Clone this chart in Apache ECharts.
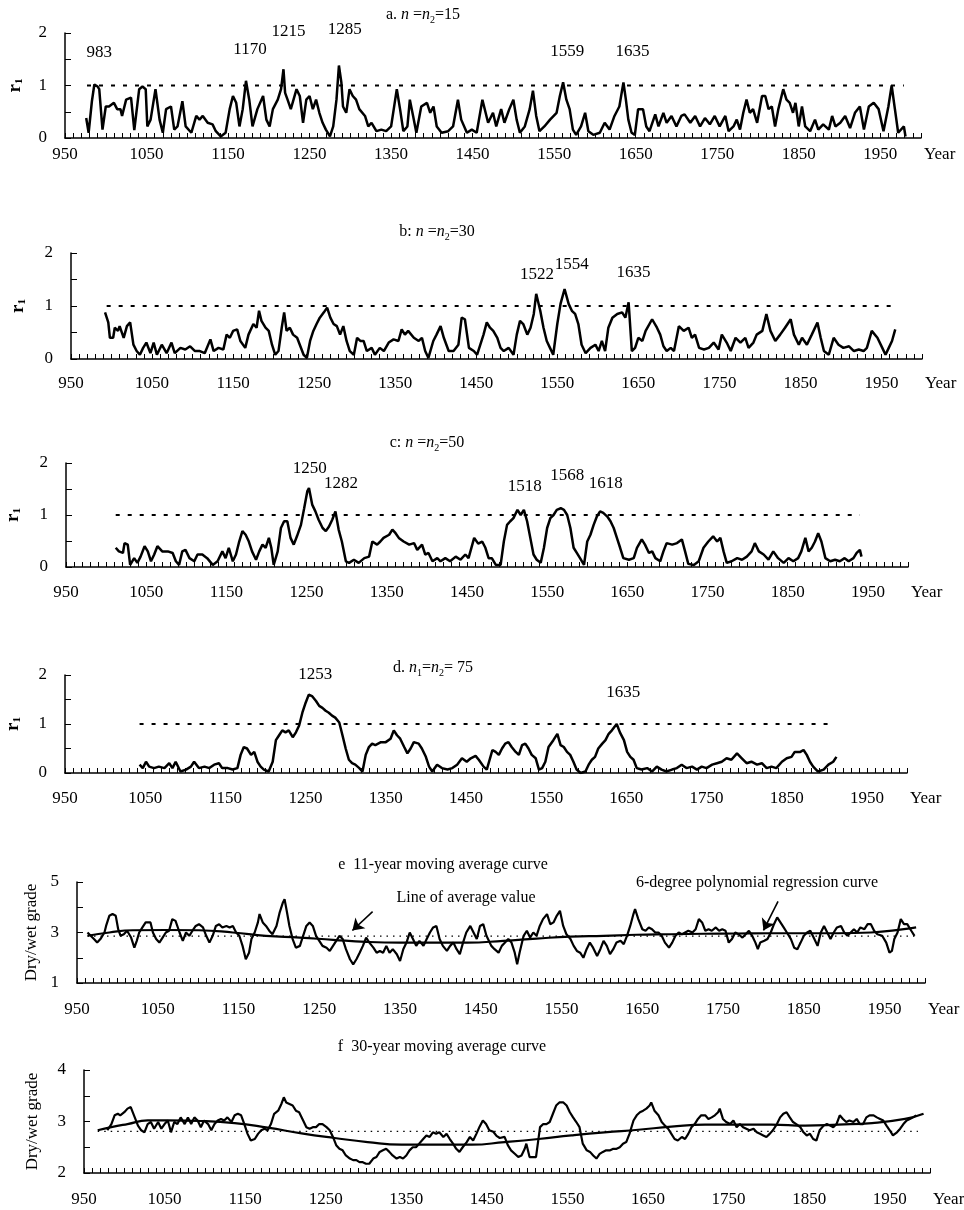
<!DOCTYPE html>
<html><head><meta charset="utf-8">
<script src="https://cdn.jsdelivr.net/npm/echarts/dist/echarts.min.js"></script>
<style>html,body{margin:0;padding:0;background:#fff}#c{width:964px;height:1210px}</style>
</head><body><div id="c"></div>
<script>
// ---------------- DATA ----------------
const seriesA = [[976,.38],[979,.1],[983,.7],[986,1.02],[990,.98],[992,.93],[996,.16],[1000,.6],[1004,.6],[1010,.67],[1014,.55],[1018,.55],[1020,.42],[1025,.73],[1031,.77],[1035,.15],[1041,.93],[1045,.98],[1049,.93],[1051,.22],[1055,.35],[1061,.93],[1066,.35],[1070,.1],[1074,.55],[1080,.6],[1084,.16],[1088,.22],[1094,.7],[1098,.22],[1105,.1],[1111,.42],[1115,.35],[1119,.42],[1125,.29],[1131,.26],[1135,.13],[1141,.03],[1147,.1],[1152,.55],[1156,.8],[1160,.67],[1164,.22],[1168,.55],[1172,1.09],[1176,.73],[1180,.22],[1186,.55],[1193,.8],[1197,.35],[1201,.22],[1205,.55],[1211,.73],[1215,.93],[1218,1.31],[1220,.86],[1223,.73],[1227,.55],[1234,.93],[1238,.8],[1242,.29],[1246,.73],[1250,.8],[1254,.55],[1258,.73],[1262,.48],[1266,.29],[1270,.16],[1275,.03],[1279,.22],[1283,.73],[1286,1.38],[1289,1.06],[1291,.6],[1295,.48],[1299,.93],[1303,.8],[1307,.73],[1311,.55],[1318,.42],[1322,.22],[1326,.29],[1332,.13],[1338,.16],[1344,.13],[1350,.22],[1357,.93],[1361,.55],[1365,.13],[1370,.22],[1373,.73],[1377,.42],[1381,.1],[1387,.6],[1394,.67],[1398,.48],[1402,.6],[1406,.22],[1412,.1],[1420,.13],[1426,.22],[1432,.73],[1436,.35],[1443,.1],[1449,.16],[1455,.1],[1462,.73],[1469,.29],[1475,.48],[1479,.22],[1485,.55],[1489,.29],[1495,.55],[1500,.73],[1504,.35],[1508,.1],[1514,.22],[1520,.55],[1524,.9],[1528,.42],[1532,.13],[1538,.22],[1545,.35],[1553,.48],[1557,.8],[1561,1.06],[1565,.73],[1569,.55],[1573,.16],[1577,.06],[1583,.22],[1588,.48],[1592,.13],[1598,.06],[1606,.1],[1612,.29],[1618,.16],[1624,.42],[1630,.6],[1635,1.06],[1638,.73],[1641,.35],[1645,.1],[1649,.06],[1653,.55],[1659,.55],[1663,.22],[1667,.13],[1674,.45],[1678,.22],[1684,.48],[1688,.29],[1694,.42],[1700,.22],[1706,.42],[1710,.45],[1717,.29],[1723,.42],[1729,.22],[1735,.38],[1741,.26],[1747,.42],[1753,.22],[1760,.42],[1764,.13],[1770,.22],[1774,.35],[1778,.16],[1782,.48],[1786,.73],[1790,.48],[1794,.55],[1799,.29],[1805,.8],[1809,.8],[1813,.55],[1817,.6],[1821,.22],[1825,.55],[1831,.93],[1835,.73],[1839,.67],[1843,.48],[1846,.67],[1850,.22],[1854,.6],[1858,.22],[1864,.13],[1870,.35],[1874,.16],[1880,.26],[1887,.16],[1891,.42],[1895,.22],[1901,.29],[1907,.42],[1913,.19],[1919,.48],[1925,.6],[1930,.16],[1936,.6],[1942,.67],[1948,.55],[1954,.13],[1960,.6],[1964,1.0],[1968,.55],[1972,.1],[1979,.22],[1981,.03]];

const seriesB = [[992,.88],[996,.69],[998,.4],[1002,.4],[1004,.59],[1008,.53],[1010,.62],[1015,.4],[1019,.62],[1023,.69],[1027,.27],[1031,.15],[1035,.08],[1039,.21],[1043,.31],[1048,.11],[1052,.31],[1056,.08],[1062,.27],[1068,.11],[1074,.31],[1078,.11],[1085,.21],[1091,.18],[1097,.24],[1103,.15],[1109,.15],[1115,.11],[1122,.37],[1126,.15],[1132,.21],[1138,.18],[1142,.46],[1146,.4],[1150,.53],[1155,.56],[1159,.34],[1165,.21],[1169,.46],[1175,.66],[1179,.59],[1182,.91],[1185,.72],[1190,.59],[1194,.53],[1198,.27],[1202,.08],[1206,.15],[1210,.59],[1213,.88],[1216,.53],[1220,.59],[1224,.46],[1229,.4],[1233,.24],[1237,.08],[1241,.02],[1245,.34],[1249,.53],[1253,.66],[1257,.78],[1262,.88],[1266,.97],[1270,.78],[1274,.66],[1278,.62],[1282,.46],[1286,.62],[1290,.34],[1294,.15],[1299,.08],[1303,.4],[1307,.34],[1311,.34],[1315,.15],[1321,.21],[1325,.08],[1331,.21],[1336,.15],[1342,.31],[1348,.37],[1354,.34],[1358,.56],[1362,.46],[1366,.53],[1373,.4],[1379,.34],[1383,.4],[1387,.15],[1391,.02],[1397,.34],[1401,.46],[1406,.62],[1410,.4],[1416,.15],[1422,.15],[1428,.27],[1432,.78],[1436,.75],[1441,.21],[1447,.15],[1451,.08],[1459,.46],[1463,.69],[1467,.59],[1471,.53],[1476,.4],[1480,.21],[1484,.15],[1490,.21],[1496,.08],[1500,.46],[1504,.72],[1508,.66],[1513,.46],[1517,.59],[1521,.85],[1524,1.23],[1529,.91],[1533,.59],[1537,.34],[1541,.21],[1545,.08],[1550,.66],[1554,1.04],[1559,1.32],[1564,1.04],[1568,.91],[1572,.85],[1576,.66],[1580,.27],[1585,.11],[1591,.21],[1597,.27],[1601,.15],[1605,.34],[1609,.15],[1613,.59],[1618,.78],[1624,.85],[1630,.88],[1634,.78],[1638,1.07],[1642,.15],[1646,.21],[1650,.4],[1655,.34],[1659,.53],[1667,.75],[1673,.59],[1677,.46],[1681,.24],[1685,.15],[1690,.21],[1694,.15],[1700,.62],[1706,.53],[1712,.59],[1716,.4],[1720,.46],[1725,.21],[1731,.18],[1737,.21],[1743,.31],[1749,.18],[1753,.46],[1759,.31],[1764,.15],[1770,.4],[1776,.31],[1782,.4],[1786,.21],[1792,.31],[1796,.46],[1803,.53],[1808,.85],[1813,.53],[1819,.34],[1825,.46],[1831,.59],[1838,.75],[1842,.46],[1848,.27],[1852,.4],[1858,.27],[1864,.46],[1871,.69],[1875,.4],[1879,.15],[1885,.08],[1891,.4],[1897,.27],[1903,.21],[1910,.24],[1916,.15],[1922,.18],[1928,.15],[1932,.21],[1938,.53],[1945,.4],[1951,.21],[1955,.08],[1959,.21],[1963,.34],[1967,.56]];

const seriesC = [[1012,.37],[1016,.3],[1021,.27],[1023,.46],[1027,.43],[1030,.04],[1035,.17],[1039,.08],[1043,.2],[1048,.4],[1052,.3],[1056,.11],[1060,.24],[1064,.4],[1070,.3],[1077,.3],[1083,.27],[1087,.11],[1091,.04],[1095,.3],[1099,.33],[1104,.17],[1110,.11],[1114,.24],[1120,.24],[1126,.17],[1133,.04],[1139,.11],[1145,.3],[1149,.17],[1153,.37],[1158,.11],[1162,.24],[1166,.49],[1170,.69],[1174,.62],[1178,.49],[1182,.3],[1187,.14],[1191,.3],[1195,.43],[1199,.37],[1203,.56],[1206,.37],[1209,.04],[1214,.3],[1218,.75],[1222,.88],[1226,.88],[1230,.56],[1234,.43],[1238,.59],[1243,.81],[1247,1.13],[1251,1.46],[1253,1.52],[1257,1.2],[1261,1.07],[1265,.91],[1270,.75],[1274,.69],[1278,.78],[1282,.91],[1286,1.07],[1290,.72],[1294,.49],[1299,.11],[1303,.08],[1309,.14],[1315,.08],[1322,.17],[1328,.2],[1332,.49],[1338,.43],[1342,.49],[1346,.56],[1353,.62],[1357,.72],[1361,.65],[1365,.56],[1371,.49],[1378,.43],[1384,.46],[1388,.33],[1394,.43],[1398,.24],[1402,.27],[1407,.11],[1413,.17],[1417,.11],[1423,.17],[1429,.11],[1436,.2],[1442,.14],[1448,.24],[1452,.17],[1459,.56],[1464,.45],[1469,.49],[1473,.37],[1477,.17],[1481,.17],[1486,.04],[1492,.04],[1496,.49],[1500,.81],[1504,.88],[1508,.94],[1513,1.1],[1517,1.0],[1521,1.1],[1525,.88],[1529,.56],[1533,.24],[1537,.14],[1542,.08],[1546,.37],[1550,.75],[1554,.94],[1558,1.0],[1562,1.1],[1567,1.13],[1571,1.1],[1575,1.0],[1579,.75],[1583,.37],[1587,.27],[1591,.17],[1596,.04],[1600,.49],[1604,.62],[1608,.81],[1612,.97],[1616,1.07],[1620,1.04],[1625,.97],[1629,.88],[1633,.75],[1637,.56],[1641,.37],[1645,.17],[1652,.14],[1658,.17],[1662,.37],[1668,.53],[1672,.43],[1677,.27],[1681,.3],[1685,.17],[1691,.11],[1695,.3],[1699,.46],[1706,.43],[1712,.46],[1718,.53],[1722,.3],[1726,.06],[1733,.04],[1739,.11],[1745,.37],[1751,.49],[1757,.59],[1762,.49],[1766,.56],[1770,.3],[1774,.08],[1780,.11],[1787,.17],[1793,.14],[1799,.2],[1805,.3],[1809,.46],[1814,.3],[1820,.24],[1826,.14],[1832,.3],[1838,.17],[1845,.08],[1851,.17],[1857,.11],[1863,.17],[1867,.3],[1872,.56],[1876,.3],[1880,.37],[1884,.49],[1888,.65],[1892,.49],[1897,.17],[1903,.11],[1909,.14],[1915,.11],[1921,.17],[1926,.11],[1932,.17],[1936,.27],[1940,.33],[1942,.2]];

const seriesD = [[1043,.17],[1047,.1],[1051,.23],[1055,.13],[1061,.1],[1067,.13],[1074,.1],[1080,.2],[1084,.1],[1088,.23],[1094,.03],[1101,.07],[1107,.13],[1111,.23],[1117,.1],[1124,.13],[1130,.1],[1136,.17],[1142,.2],[1146,.1],[1153,.1],[1159,.07],[1165,.1],[1169,.37],[1173,.53],[1177,.5],[1182,.37],[1186,.43],[1190,.23],[1194,.13],[1198,.07],[1204,.03],[1209,.23],[1213,.67],[1217,.77],[1221,.87],[1225,.83],[1229,.87],[1234,.73],[1238,.83],[1242,.97],[1246,1.23],[1250,1.43],[1254,1.6],[1258,1.57],[1263,1.47],[1267,1.37],[1271,1.33],[1275,1.27],[1279,1.23],[1283,1.17],[1287,1.13],[1292,1.03],[1296,.77],[1300,.5],[1304,.27],[1308,.2],[1312,.17],[1317,.1],[1321,.03],[1325,.37],[1329,.53],[1333,.6],[1337,.57],[1344,.63],[1350,.63],[1356,.7],[1360,.87],[1364,.77],[1368,.7],[1373,.53],[1377,.4],[1381,.5],[1385,.63],[1391,.6],[1395,.5],[1400,.33],[1404,.13],[1408,.03],[1414,.17],[1420,.1],[1427,.07],[1433,.1],[1439,.17],[1445,.3],[1451,.23],[1456,.3],[1462,.35],[1466,.27],[1472,.13],[1476,.07],[1483,.47],[1487,.43],[1491,.37],[1495,.5],[1499,.6],[1503,.63],[1507,.53],[1512,.43],[1516,.37],[1520,.57],[1524,.6],[1528,.5],[1532,.37],[1537,.3],[1541,.07],[1545,.1],[1549,.23],[1553,.53],[1559,.67],[1564,.8],[1568,.57],[1572,.53],[1576,.43],[1580,.37],[1584,.23],[1588,.07],[1593,0],[1599,.03],[1603,.17],[1607,.27],[1611,.33],[1615,.5],[1620,.6],[1624,.67],[1628,.8],[1632,.87],[1638,1.0],[1642,.83],[1647,.67],[1651,.43],[1655,.33],[1659,.27],[1663,.1],[1669,.07],[1676,.1],[1682,.03],[1688,.13],[1694,.07],[1700,.03],[1707,.07],[1713,.1],[1719,.17],[1725,.1],[1732,.13],[1738,.07],[1744,.13],[1750,.1],[1757,.17],[1763,.2],[1769,.23],[1775,.3],[1781,.27],[1788,.4],[1794,.3],[1800,.2],[1806,.23],[1813,.17],[1819,.2],[1825,.1],[1831,.13],[1837,.1],[1844,.23],[1850,.3],[1856,.33],[1860,.43],[1867,.43],[1871,.47],[1875,.37],[1879,.23],[1883,.13],[1889,.03],[1896,.07],[1902,.17],[1908,.23],[1912,.33]];

const movingAvg11 = [[963,3.0],[967,2.87],[971,2.74],[975,2.6],[979,2.74],[984,3.0],[986,3.26],[990,3.66],[994,3.73],[998,3.66],[1001,3.13],[1004,2.87],[1008,2.93],[1012,3.07],[1017,2.8],[1021,2.4],[1024,2.67],[1027,3.0],[1031,3.2],[1035,3.4],[1041,3.4],[1044,3.0],[1048,2.74],[1052,2.6],[1056,2.8],[1060,3.0],[1064,3.07],[1068,3.53],[1072,3.46],[1077,3.0],[1081,2.67],[1085,3.0],[1089,2.87],[1093,3.07],[1097,3.26],[1101,3.33],[1106,3.2],[1110,2.87],[1114,2.6],[1118,2.87],[1122,3.26],[1126,3.33],[1130,3.2],[1135,3.26],[1139,3.2],[1143,3.26],[1147,3.0],[1151,2.87],[1155,2.47],[1159,1.94],[1163,2.2],[1166,2.74],[1170,3.0],[1174,3.4],[1176,3.73],[1180,3.4],[1184,3.26],[1188,3.07],[1192,2.93],[1197,3.26],[1201,3.8],[1205,4.19],[1207,4.32],[1210,3.8],[1213,3.26],[1217,2.74],[1221,2.4],[1226,2.47],[1230,2.87],[1234,3.26],[1238,3.4],[1242,3.26],[1246,2.87],[1250,2.67],[1254,2.47],[1259,2.4],[1263,2.27],[1267,2.47],[1271,2.67],[1275,2.87],[1279,2.74],[1283,2.34],[1288,1.94],[1292,1.74],[1296,1.94],[1300,2.2],[1304,2.47],[1308,2.8],[1312,2.6],[1317,2.4],[1321,2.2],[1325,2.27],[1329,2.2],[1333,2.47],[1337,2.2],[1341,2.34],[1346,2.14],[1350,1.87],[1354,2.34],[1358,2.6],[1362,3.0],[1366,2.74],[1370,2.47],[1374,2.67],[1379,2.47],[1383,2.74],[1387,3.0],[1391,3.2],[1395,3.26],[1399,2.74],[1403,2.47],[1408,2.27],[1412,2.47],[1416,2.6],[1420,2.34],[1424,2.14],[1428,2.6],[1432,3.0],[1437,3.26],[1441,3.0],[1445,2.74],[1449,3.26],[1453,3.33],[1457,2.87],[1463,2.47],[1467,2.34],[1472,2.2],[1476,2.47],[1480,2.6],[1484,2.74],[1488,2.6],[1492,2.2],[1495,1.74],[1498,2.2],[1503,2.87],[1507,3.07],[1511,2.8],[1515,3.0],[1519,2.87],[1523,3.26],[1527,3.53],[1532,3.73],[1536,3.33],[1540,3.4],[1544,3.66],[1548,3.86],[1552,3.26],[1556,2.93],[1561,2.74],[1565,2.47],[1569,2.27],[1573,2.2],[1577,2.0],[1581,2.34],[1585,2.6],[1589,2.4],[1594,2.07],[1598,2.34],[1602,2.67],[1606,2.47],[1610,2.14],[1614,2.34],[1618,2.6],[1623,2.67],[1627,2.54],[1631,2.87],[1635,3.26],[1639,3.73],[1641,3.93],[1645,3.53],[1650,3.13],[1654,3.07],[1658,3.2],[1662,3.13],[1666,3.0],[1670,3.0],[1674,2.87],[1678,2.6],[1683,2.4],[1687,2.6],[1691,2.87],[1695,3.0],[1699,2.93],[1703,3.0],[1707,3.07],[1712,3.0],[1716,3.13],[1720,3.53],[1724,3.4],[1728,3.07],[1732,3.13],[1736,3.07],[1741,3.2],[1745,3.07],[1749,3.13],[1753,3.07],[1757,2.6],[1761,2.74],[1765,3.0],[1769,2.93],[1774,2.8],[1778,2.93],[1782,3.07],[1786,2.87],[1790,2.6],[1793,2.34],[1796,2.6],[1801,2.67],[1805,2.74],[1809,3.0],[1813,3.33],[1817,3.6],[1821,3.4],[1825,3.2],[1829,3.0],[1834,2.74],[1838,2.4],[1842,2.34],[1846,2.6],[1850,2.87],[1854,3.0],[1858,3.07],[1863,2.74],[1867,2.47],[1871,3.0],[1875,3.26],[1879,3.0],[1883,2.74],[1887,3.0],[1891,3.2],[1896,3.26],[1900,3.0],[1904,2.87],[1908,3.0],[1912,3.13],[1916,3.0],[1920,3.2],[1925,3.13],[1929,3.33],[1933,3.33],[1937,3.07],[1941,2.93],[1947,2.87],[1952,2.6],[1956,2.2],[1959,2.27],[1962,2.74],[1966,3.0],[1970,3.53],[1974,3.33],[1978,3.33],[1983,3.07],[1987,2.87]];

const polyFitE = [[963,2.87],[990,3.0],[1019,3.09],[1060,3.1],[1101,3.09],[1143,3.0],[1184,2.87],[1226,2.8],[1267,2.71],[1308,2.63],[1350,2.6],[1391,2.6],[1433,2.6],[1478,2.67],[1519,2.76],[1561,2.84],[1602,2.87],[1643,2.91],[1685,2.93],[1726,2.95],[1767,2.96],[1809,2.97],[1850,2.97],[1892,2.97],[1933,3.0],[1974,3.13],[1989,3.2]];

const movingAvg30 = [[979,2.83],[984,2.95],[988,3.12],[992,3.15],[995,3.12],[1000,3.18],[1004,3.25],[1008,3.28],[1013,3.08],[1017,2.92],[1021,2.83],[1025,2.79],[1029,2.95],[1033,2.99],[1037,2.86],[1042,2.99],[1046,2.86],[1050,2.95],[1054,3.02],[1058,2.79],[1062,2.99],[1066,2.95],[1070,3.08],[1075,2.95],[1079,3.08],[1083,2.95],[1087,3.08],[1091,3.02],[1095,2.89],[1099,3.02],[1104,2.95],[1108,2.83],[1112,2.95],[1116,3.02],[1120,3.05],[1124,3.02],[1128,3.08],[1133,2.99],[1137,3.12],[1141,3.15],[1145,3.12],[1149,2.95],[1153,2.76],[1157,2.63],[1162,2.66],[1166,2.76],[1170,2.83],[1174,2.86],[1178,2.83],[1182,2.95],[1186,3.15],[1191,3.21],[1195,3.34],[1198,3.47],[1201,3.37],[1205,3.34],[1209,3.31],[1213,3.21],[1217,3.18],[1222,3.02],[1226,2.89],[1230,2.86],[1234,2.89],[1238,2.89],[1242,2.95],[1246,2.95],[1251,2.89],[1255,2.83],[1259,2.7],[1263,2.54],[1267,2.47],[1271,2.44],[1275,2.34],[1280,2.28],[1284,2.25],[1288,2.25],[1292,2.21],[1296,2.21],[1300,2.18],[1304,2.18],[1309,2.28],[1313,2.31],[1317,2.41],[1321,2.44],[1325,2.47],[1329,2.41],[1333,2.34],[1338,2.28],[1342,2.31],[1346,2.28],[1350,2.34],[1354,2.44],[1358,2.5],[1362,2.5],[1366,2.57],[1371,2.66],[1375,2.73],[1379,2.7],[1383,2.79],[1387,2.76],[1391,2.79],[1396,2.7],[1400,2.76],[1404,2.66],[1408,2.57],[1412,2.47],[1416,2.41],[1420,2.5],[1425,2.6],[1429,2.7],[1433,2.63],[1437,2.76],[1441,2.9],[1445,3.02],[1449,2.95],[1453,2.83],[1458,2.8],[1462,2.72],[1466,2.68],[1472,2.7],[1476,2.54],[1480,2.44],[1485,2.37],[1489,2.31],[1493,2.34],[1497,2.47],[1499,2.57],[1503,2.31],[1507,2.31],[1511,2.31],[1516,2.89],[1520,2.95],[1524,2.95],[1528,2.99],[1532,3.15],[1536,3.31],[1540,3.37],[1545,3.37],[1549,3.31],[1553,3.18],[1557,3.08],[1561,2.99],[1565,2.89],[1569,2.57],[1574,2.44],[1578,2.41],[1582,2.34],[1586,2.28],[1590,2.37],[1594,2.41],[1598,2.44],[1603,2.44],[1607,2.47],[1611,2.47],[1615,2.5],[1619,2.57],[1623,2.6],[1627,2.76],[1632,3.02],[1636,3.12],[1640,3.18],[1644,3.21],[1648,3.25],[1652,3.31],[1654,3.37],[1658,3.21],[1663,3.12],[1667,2.99],[1671,2.92],[1675,2.86],[1679,2.76],[1683,2.66],[1687,2.63],[1692,2.7],[1696,2.66],[1700,2.76],[1704,2.89],[1708,2.95],[1712,3.05],[1716,3.12],[1721,3.12],[1725,3.05],[1729,3.08],[1733,3.12],[1737,3.18],[1739,3.25],[1743,3.05],[1747,2.99],[1752,2.95],[1756,3.02],[1760,2.89],[1764,2.95],[1768,2.89],[1772,2.86],[1776,2.83],[1781,2.86],[1785,2.79],[1789,2.76],[1793,2.73],[1797,2.7],[1801,2.76],[1805,2.83],[1810,2.95],[1814,3.08],[1818,3.15],[1822,3.18],[1826,3.08],[1830,2.99],[1834,2.95],[1839,2.89],[1843,2.79],[1847,2.73],[1851,2.76],[1855,2.66],[1859,2.63],[1863,2.83],[1868,2.92],[1872,2.95],[1876,2.92],[1880,2.89],[1884,2.95],[1888,3.12],[1892,3.05],[1896,2.99],[1900,3.02],[1905,2.99],[1909,3.05],[1913,2.95],[1917,2.95],[1921,3.08],[1925,3.12],[1930,3.12],[1934,3.08],[1938,3.05],[1942,3.02],[1946,2.92],[1950,2.83],[1954,2.73],[1959,2.79],[1963,2.86],[1967,2.95],[1971,3.02],[1975,3.05],[1979,3.08],[1983,3.12]];

const polyFitF = [[967,2.83],[984,2.89],[1004,2.95],[1029,3.02],[1054,3.02],[1095,3.01],[1137,2.97],[1178,2.88],[1220,2.77],[1261,2.68],[1302,2.6],[1344,2.55],[1385,2.55],[1431,2.55],[1472,2.6],[1514,2.66],[1555,2.73],[1596,2.79],[1638,2.84],[1679,2.9],[1721,2.94],[1762,2.94],[1803,2.94],[1845,2.92],[1886,2.94],[1928,2.97],[1969,3.05],[1992,3.15]];

// reference lines (threshold r=1 and average grade)
const thresholdA = [[977,1],[1979,1]];
const thresholdB = [[994,1],[1965,1]];
const thresholdC = [[1012,1],[1940,1]];
const thresholdD = [[1043,1],[1908,1]];
const averageE = [[963,2.86],[1987,2.86]];
const averageF = [[967,2.81],[1985,2.81]];

// peak labels: text and anchor [year, value]
const peaksA = [['983',[992,1.62]],['1170',[1177,1.68]],['1215',[1224,2.02]],['1285',[1293,2.06]],['1559',[1566,1.64]],['1635',[1646,1.64]]];
const peaksB = [['1522',[1525,1.59]],['1554',[1568,1.78]],['1635',[1644,1.63]]];
const peaksC = [['1250',[1254,1.9]],['1282',[1293,1.61]],['1518',[1522,1.54]],['1568',[1575,1.76]],['1618',[1623,1.61]]];
const peaksD = [['1253',[1262,2.0]],['1635',[1646,1.64]]];

// axis labels
const xTickLabels = [950,1050,1150,1250,1350,1450,1550,1650,1750,1850,1950];

// ---------------- LAYOUT ----------------
const FONT = 'Liberation Serif';
const INK = '#000';
const panels = [
  {left:65, width:856, top:33,  height:105, min:0, max:2, step:0.5, xMargin:8,  yName:'r', nameGap:40, labels:v=>Number.isInteger(v)},
  {left:71, width:851, top:253, height:106, min:0, max:2, step:0.5, xMargin:16, yName:'r', nameGap:43, labels:v=>Number.isInteger(v)},
  {left:66, width:842, top:463, height:104, min:0, max:2, step:0.5, xMargin:17, yName:'r', nameGap:43, labels:v=>Number.isInteger(v)},
  {left:65, width:842, top:675, height:98,  min:0, max:2, step:0.5, xMargin:17, yName:'r', nameGap:42, labels:v=>Number.isInteger(v)},
  {left:77, width:848, top:882, height:101, min:1, max:5, step:1,   xMargin:18, yName:'grade', nameGap:36, labels:v=>v%2===1},
  {left:84, width:846, top:1070,height:103, min:2, max:4, step:0.5, xMargin:18, yName:'grade', nameGap:43, labels:v=>Number.isInteger(v)}
];

const grids = panels.map(p => ({left:p.left, width:p.width, top:p.top, height:p.height, containLabel:false, outerBoundsMode:'none'}));

const xAxes = panels.map((p,i) => ({
  gridIndex:i, type:'value', min:950, max:2000, interval:50,
  axisLine:{show:true, onZero:false, lineStyle:{color:'#000', width:1.5}},
  axisTick:{show:true, inside:true, length:5, lineStyle:{color:'#000', width:1}},
  minorTick:{show:true, splitNumber:5, length:5, lineStyle:{color:'#000', width:1}},
  splitLine:{show:false}, minorSplitLine:{show:false},
  axisLabel:{margin:p.xMargin, fontFamily:FONT, fontSize:17, color:INK, showMaxLabel:false,
    formatter:v => xTickLabels.includes(v) ? String(v) : ''},
  name:'Year', nameLocation:'end', nameGap:3,
  nameTextStyle:{fontFamily:FONT, fontSize:17, color:INK, verticalAlign:'top', align:'left', padding:[p.xMargin,0,0,0]}
}));

const rName = {name:'{r|r}{s|1}', rich:{r:{fontFamily:FONT, fontSize:19, fontWeight:'bold', color:INK}, s:{fontFamily:FONT, fontSize:11, fontWeight:'bold', color:INK, verticalAlign:'bottom'}}};
const yAxes = panels.map((p,i) => ({
  gridIndex:i, type:'value', min:p.min, max:p.max, interval:p.step,
  axisLine:{show:true, lineStyle:{color:'#000', width:1.5}},
  axisTick:{show:true, inside:true, length:6, lineStyle:{color:'#000', width:1}},
  splitLine:{show:false},
  axisLabel:{margin:18, fontFamily:FONT, fontSize:17, color:INK, formatter:v => p.labels(v) ? String(v) : ''},
  name: p.yName==='r' ? rName.name : 'Dry/wet grade',
  nameLocation:'middle', nameRotate:90, nameGap:p.nameGap,
  nameTextStyle: p.yName==='r' ? {rich:rName.rich} : {fontFamily:FONT, fontSize:17, color:INK}
}));

function curve(i, data, width, extra) {
  return Object.assign({type:'line', xAxisIndex:i, yAxisIndex:i, data:data, symbol:'none', silent:true,
    lineStyle:{color:'#000', width:width}, z:3}, extra||{});
}
function dashed(i, data, dash, width) {
  return {type:'line', xAxisIndex:i, yAxisIndex:i, data:data, symbol:'none', silent:true,
    lineStyle:{color:'#000', width:width, type:dash}, z:2};
}
function peakLabels(i, list) {
  return {type:'scatter', xAxisIndex:i, yAxisIndex:i, symbol:'circle', symbolSize:1, clip:false, silent:true,
    itemStyle:{color:'#fff', opacity:0},
    label:{show:true, position:'inside', formatter:q => q.name, fontFamily:FONT, fontSize:17,
      color:'#000', opacity:1, textBorderWidth:0, textBorderColor:'transparent'},
    data:list.map(d => ({name:d[0], value:d[1]})), z:5};
}

const arrowE = {
  silent:true, symbol:['none','arrow'], symbolSize:11, label:{show:false},
  lineStyle:{color:'#000', width:1.6, type:'solid'},
  data:[[{coord:[1316,3.83]},{coord:[1291,3.08]}],[{coord:[1818,4.23]},{coord:[1800,3.08]}]]
};

const series = [
  curve(0, seriesA, 2.5), dashed(0, thresholdA, [4,8], 2), peakLabels(0, peaksA),
  curve(1, seriesB, 2.5), dashed(1, thresholdB, [4,8], 2), peakLabels(1, peaksB),
  curve(2, seriesC, 2.5), dashed(2, thresholdC, [4,8], 2), peakLabels(2, peaksC),
  curve(3, seriesD, 2.5), dashed(3, thresholdD, [4,8], 2), peakLabels(3, peaksD),
  curve(4, movingAvg11, 2.2), curve(4, polyFitE, 2.2, {smooth:true, markLine:arrowE}), dashed(4, averageE, [1.5,5], 1.3),
  curve(5, movingAvg30, 2.2), curve(5, polyFitF, 2.2, {smooth:true}), dashed(5, averageF, [1.5,5], 1.3)
];

const richTitle = {
  i:{fontFamily:FONT, fontSize:16, fontStyle:'italic', color:INK, lineHeight:20},
  s:{fontFamily:FONT, fontSize:10, color:INK, verticalAlign:'bottom', lineHeight:20},
  t:{fontFamily:FONT, fontSize:16, color:INK, lineHeight:20}
};
function txt(x, y, text, size) {
  return {type:'text', x:x, y:y, silent:true,
    style:{text:text, fill:INK, font:(size||16)+'px "'+FONT+'"', align:'center', verticalAlign:'middle', rich:richTitle}};
}
const graphics = [
  txt(423, 15,  '{t|a. }{i|n}{t| =}{i|n}{s|2}{t|=15}'),
  txt(437, 232, '{t|b: }{i|n}{t| =}{i|n}{s|2}{t|=30}'),
  txt(427, 443, '{t|c: }{i|n}{t| =}{i|n}{s|2}{t|=50}'),
  txt(433, 668, '{t|d. }{i|n}{s|1}{t|=}{i|n}{s|2}{t|= 75}'),
  txt(443, 865, '{t|e  11-year moving average curve}'),
  txt(442, 1047,'{t|f  30-year moving average curve}'),
  txt(466, 898, '{t|Line of average value}'),
  txt(757, 883, '{t|6-degree polynomial regression curve}')
];

const chart = echarts.init(document.getElementById('c'), null, {renderer:'canvas'});
chart.setOption({
  animation:false, backgroundColor:'#fff',
  grid:grids, xAxis:xAxes, yAxis:yAxes, series:series, graphic:graphics
});
</script>
</body></html>
